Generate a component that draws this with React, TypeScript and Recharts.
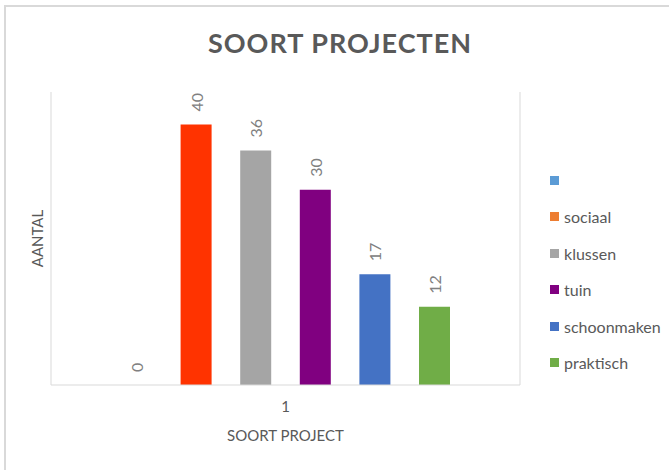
import { BarChart, Bar, XAxis, YAxis } from 'recharts';

const categories = ['1'];
const seriesNames = ['', 'sociaal', 'klussen', 'tuin', 'schoonmaken', 'praktisch'];
const seriesValues = [0, 40, 36, 30, 17, 12];
const barColors = ['#5b9bd5', '#ff3300', '#a5a5a5', '#800080', '#4472c4', '#70ad47'];
const legendColors = ['#5b9bd5', '#ed7d31', '#a5a5a5', '#800080', '#4472c4', '#70ad47'];

const data = categories.map((c) => {
  const row: { [key: string]: string | number } = { name: c };
  seriesValues.forEach((v, i) => {
    row['s' + i] = v;
  });
  return row;
});

const font = 'Lato, "Open Sans", sans-serif';

const renderValueLabel = (props: any) => {
  const vb = props.viewBox || {};
  const x = Number(props.x ?? vb.x);
  const y = Number(props.y ?? vb.y);
  const w = Number(props.width ?? vb.width);
  const cx = x + w / 2;
  const ty = y - 13;
  return (
    <text
      x={cx}
      y={ty}
      transform={`rotate(-90, ${cx}, ${ty})`}
      textAnchor="start"
      dominantBaseline="central"
      fill="#808080"
      fontSize={16}
      fontFamily={font}
    >
      {String(props.value)}
    </text>
  );
};

export default function App() {
  return (
    <div
      style={{
        position: 'absolute',
        left: 0,
        top: 0,
        width: 669,
        height: 470,
        overflow: 'hidden',
        background: '#fff',
        fontFamily: font,
      }}
    >
      {/* chart frame, only top and left edge visible */}
      <div
        style={{
          position: 'absolute',
          left: 4,
          top: 5,
          width: 720,
          height: 520,
          borderLeft: '2px solid #d9d9d9',
          borderTop: '2px solid #d9d9d9',
        }}
      />
      <div
        style={{
          position: 'absolute',
          left: 4,
          top: 29,
          width: 672,
          textAlign: 'center',
          fontSize: 27,
          lineHeight: '27px',
          fontWeight: 700,
          letterSpacing: 1,
          color: '#595959',
        }}
      >
        SOORT PROJECTEN
      </div>
      <div style={{ position: 'absolute', left: 0, top: 0 }}>
        <BarChart
          width={669}
          height={470}
          data={data}
          margin={{ top: 92, right: 148, bottom: 55, left: 25 }}
          barGap={28.6}
        >
          <XAxis
            dataKey="name"
            height={30}
            axisLine={{ stroke: '#d9d9d9' }}
            tickLine={false}
            tickSize={14}
            tickMargin={2}
            tick={{ fill: '#595959', fontSize: 15, fontFamily: font }}
            label={{
              value: 'SOORT PROJECT',
              position: 'bottom',
              offset: 15,
              fill: '#595959',
              fontSize: 15,
              fontFamily: font,
            }}
          />
          <YAxis
            yAxisId="left"
            width={26}
            domain={[0, 45]}
            tick={false}
            tickLine={false}
            axisLine={{ stroke: '#d9d9d9' }}
            label={{
              value: 'AANTAL',
              angle: -90,
              position: 'center',
              fill: '#595959',
              fontSize: 15,
              fontFamily: font,
            }}
          />
          <YAxis
            yAxisId="right"
            orientation="right"
            width={1}
            domain={[0, 45]}
            tick={false}
            tickLine={false}
            axisLine={{ stroke: '#d9d9d9' }}
          />
          {seriesNames.map((name, i) => (
            <Bar
              key={'s' + i}
              yAxisId="left"
              dataKey={'s' + i}
              name={name}
              fill={barColors[i]}
              barSize={31}
              minPointSize={0.01}
              label={renderValueLabel}
              isAnimationActive={false}
            />
          ))}
        </BarChart>
      </div>
      {seriesNames.map((name, i) => (
        <div
          key={'lg' + i}
          style={{
            position: 'absolute',
            left: 550,
            top: 180 + i * 36.5 - 10,
            height: 20,
            display: 'flex',
            alignItems: 'center',
            fontSize: 16,
            color: '#595959',
            whiteSpace: 'nowrap',
          }}
        >
          <span
            style={{
              display: 'inline-block',
              width: 9,
              height: 9,
              background: legendColors[i],
              marginRight: 5,
            }}
          />
          {name}
        </div>
      ))}
    </div>
  );
}
